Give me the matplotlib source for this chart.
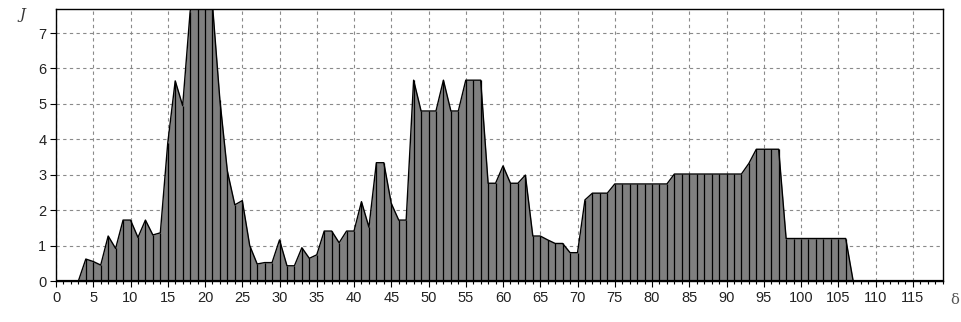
import numpy as np
import matplotlib
matplotlib.use("Agg")
import matplotlib.pyplot as plt
from matplotlib.ticker import MultipleLocator


# delta values (integer steps) and J
delta = list(range(0, 120))
j_vals = [
    0.0, 0.0, 0.0, 0.0, 0.62, 0.55, 0.45, 1.27, 0.92, 1.72,       # 0-9
    1.72, 1.23, 1.72, 1.30, 1.36, 3.90, 5.65, 4.95, 7.60, 9.00,   # 10-19
    9.00, 7.80, 5.10, 3.10, 2.15, 2.27, 1.00, 0.48, 0.52, 0.52,   # 20-29
    1.16, 0.43, 0.43, 0.94, 0.64, 0.74, 1.41, 1.41, 1.08, 1.41,   # 30-39
    1.41, 2.24, 1.52, 3.34, 3.34, 2.19, 1.72, 1.72, 5.67, 4.80,   # 40-49
    4.80, 4.80, 5.67, 4.80, 4.80, 5.67, 5.67, 5.67, 2.76, 2.76,   # 50-59
    3.25, 2.76, 2.76, 2.99, 1.27, 1.27, 1.16, 1.06, 1.06, 0.80,   # 60-69
    0.80, 2.29, 2.48, 2.48, 2.48, 2.74, 2.74, 2.74, 2.74, 2.74,   # 70-79
    2.74, 2.74, 2.74, 3.02, 3.02, 3.02, 3.02, 3.02, 3.02, 3.02,   # 80-89
    3.02, 3.02, 3.02, 3.32, 3.72, 3.72, 3.72, 3.72, 1.20, 1.20,   # 90-99
    1.20, 1.20, 1.20, 1.20, 1.20, 1.20, 1.20, 0.0, 0.0, 0.0,      # 100-109
    0.0, 0.0, 0.0, 0.0, 0.0, 0.0, 0.0, 0.0, 0.0, 0.0,             # 110-119
]
x_ticks = list(range(0, 120, 5))
y_ticks = list(range(0, 8))

plt.rcParams["font.family"] = ["Liberation Sans", "DejaVu Sans"]

fig = plt.figure(figsize=(9.61, 3.22), dpi=100)
ax = fig.add_axes([0.0583, 0.1273, 0.9816 - 0.0583, 0.971 - 0.1273])

x = np.array(delta, dtype=float)
y = np.array(j_vals)

# filled area with outline and a vertical line at every step
ax.fill_between(x, y, 0, color="#808080", linewidth=0, zorder=2)
ax.vlines(x, 0, y, colors="black", linewidth=0.9, zorder=3)
ax.plot(x, y, color="black", linewidth=1.0, zorder=4)
ax.axhline(0, color="black", linewidth=1.6, zorder=5)

ax.set_xlim(0, 119.1)
ax.set_ylim(0, 7.67)

ax.set_xticks(x_ticks)
ax.set_xticklabels([str(t) for t in x_ticks])
ax.set_yticks(y_ticks)
ax.xaxis.set_minor_locator(MultipleLocator(1))
ax.tick_params(axis="both", which="major", length=4, width=0.8,
               labelsize=10.5, colors="black", labelcolor="#222222", pad=3)
ax.tick_params(axis="x", which="minor", length=2.5, width=0.8, colors="black")

ax.grid(True, which="major", color="#8a8a8a", linestyle=(0, (3, 3)),
        linewidth=0.8, zorder=1)
ax.set_axisbelow(True)

for s in ax.spines.values():
    s.set_linewidth(1.0)
    s.set_color("black")

# axis names placed like the original
fig.text(22 / 961, 1 - 15 / 322, "J", fontsize=10.5, style="italic",
         family="DejaVu Serif", color="#333333", ha="center", va="center")
fig.text(955 / 961, 1 - 300 / 322, "δ", fontsize=10.5,
         family="DejaVu Serif", color="#555555", ha="center", va="center")

fig.savefig("out.png", dpi=100)
